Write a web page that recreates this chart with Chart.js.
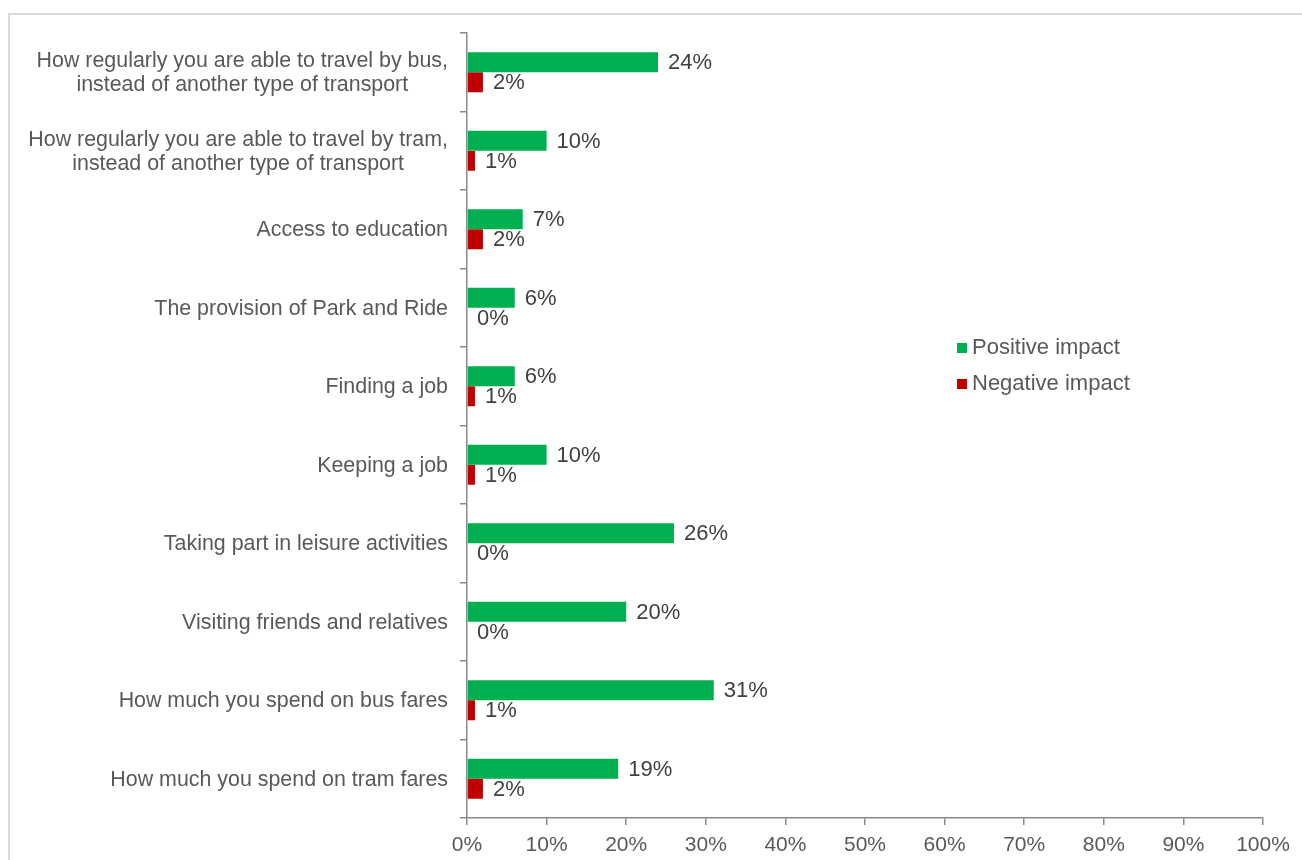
<!DOCTYPE html>
<html>
<head>
<meta charset="utf-8">
<script src="https://cdn.jsdelivr.net/npm/chart.js@4.4.1/dist/chart.umd.min.js"></script>
<style>
  html, body { margin: 0; padding: 0; background: #fff; overflow: hidden; }
  #frame {
    position: absolute; left: 8px; top: 13px; width: 1310px; height: 860px;
    border: 2px solid #d9d9d9; box-sizing: border-box;
  }
  #wrap { position: absolute; left: 0; top: 0; width: 1302px; height: 860px; }
</style>
</head>
<body>
<div id="frame"></div>
<div id="wrap"><canvas id="chart"></canvas></div>
<script>
// Survey items, top to bottom
const categories = [
  ['How regularly you are able to travel by bus,', 'instead of another type of transport'],
  ['How regularly you are able to travel by tram,', 'instead of another type of transport'],
  'Access to education',
  'The provision of Park and Ride',
  'Finding a job',
  'Keeping a job',
  'Taking part in leisure activities',
  'Visiting friends and relatives',
  'How much you spend on bus fares',
  'How much you spend on tram fares'
];

const positiveImpact = [24, 10, 7, 6, 6, 10, 26, 20, 31, 19];
const negativeImpact = [2, 1, 2, 0, 1, 1, 0, 0, 1, 2];

const seriesNames = ['Positive impact', 'Negative impact'];
const seriesColors = ['#00B050', '#C00000'];

const xTicks = [0, 10, 20, 30, 40, 50, 60, 70, 80, 90, 100];

const FONT = '"Liberation Sans", Arial, sans-serif';
const TEXT = '#595959';
const AXIS = '#898989';

// Category labels: block right-aligned to the axis, lines centred within the block
const categoryLabels = {
  id: 'categoryLabels',
  afterDraw(chart) {
    const { ctx } = chart;
    const yScale = chart.scales.y;
    const right = yScale.right - 19;
    const lineHeight = 24;
    ctx.save();
    ctx.font = `21.4px ${FONT}`;
    ctx.fillStyle = TEXT;
    ctx.textAlign = 'center';
    ctx.textBaseline = 'middle';
    categories.forEach((label, i) => {
      const lines = Array.isArray(label) ? label : [label];
      const widest = Math.max(...lines.map(l => ctx.measureText(l).width));
      const cx = right - widest / 2;
      const cy = yScale.getPixelForValue(i) + 1;
      const y0 = cy - (lines.length - 1) * lineHeight / 2;
      lines.forEach((l, k) => ctx.fillText(l, cx, y0 + k * lineHeight));
    });
    ctx.restore();
  }
};

// Percentage labels at the end of each bar
const valueLabels = {
  id: 'valueLabels',
  afterDatasetsDraw(chart) {
    const { ctx } = chart;
    ctx.save();
    ctx.font = `22px ${FONT}`;
    ctx.fillStyle = '#404040';
    ctx.textAlign = 'left';
    ctx.textBaseline = 'middle';
    chart.data.datasets.forEach((ds, di) => {
      chart.getDatasetMeta(di).data.forEach((bar, i) => {
        ctx.fillText(ds.data[i] + '%', bar.x + 10, bar.y + 1);
      });
    });
    ctx.restore();
  }
};

// Legend sitting inside the plot area
const insideLegend = {
  id: 'insideLegend',
  afterDraw(chart) {
    const { ctx, chartArea } = chart;
    const x = chartArea.left + 490;
    const y = chartArea.top + 315;
    ctx.save();
    ctx.font = `22px ${FONT}`;
    ctx.textBaseline = 'middle';
    ctx.textAlign = 'left';
    seriesNames.forEach((name, i) => {
      const cy = y + i * 36;
      ctx.fillStyle = seriesColors[i];
      ctx.fillRect(x, cy - 5, 10, 10);
      ctx.fillStyle = TEXT;
      ctx.fillText(name, x + 15, cy);
    });
    ctx.restore();
  }
};

const ctx = document.getElementById('chart').getContext('2d');

new Chart(ctx, {
  type: 'bar',
  data: {
    labels: categories.map(c => Array.isArray(c) ? c.join(' ') : c),
    datasets: [
      {
        label: seriesNames[0],
        data: positiveImpact,
        backgroundColor: seriesColors[0],
        categoryPercentage: 0.51,
        barPercentage: 1.0
      },
      {
        label: seriesNames[1],
        data: negativeImpact,
        backgroundColor: seriesColors[1],
        categoryPercentage: 0.51,
        barPercentage: 1.0
      }
    ]
  },
  options: {
    indexAxis: 'y',
    responsive: true,
    maintainAspectRatio: false,
    animation: false,
    layout: { padding: { left: 0, top: 33, right: 39, bottom: 0 } },
    plugins: {
      legend: { display: false },
      tooltip: { enabled: false }
    },
    scales: {
      x: {
        min: 0,
        max: 100,
        afterBuildTicks: (scale) => { scale.ticks = xTicks.map(v => ({ value: v })); },
        afterFit: (scale) => { scale.height = 42; },
        ticks: {
          callback: (v) => v + '%',
          color: TEXT,
          font: { family: FONT, size: 21 },
          padding: 8,
          maxRotation: 0
        },
        grid: {
          drawOnChartArea: false,
          drawTicks: true,
          tickLength: 7,
          color: AXIS,
          lineWidth: 1.5
        },
        border: { color: AXIS, width: 1.5 }
      },
      y: {
        offset: true,
        afterFit: (scale) => { scale.width = 467; },
        ticks: { display: false },
        grid: {
          offset: true,
          drawOnChartArea: false,
          drawTicks: true,
          tickLength: 7,
          color: AXIS,
          lineWidth: 1.5
        },
        border: { color: AXIS, width: 1.5 }
      }
    }
  },
  plugins: [categoryLabels, valueLabels, insideLegend]
});
</script>
</body>
</html>
